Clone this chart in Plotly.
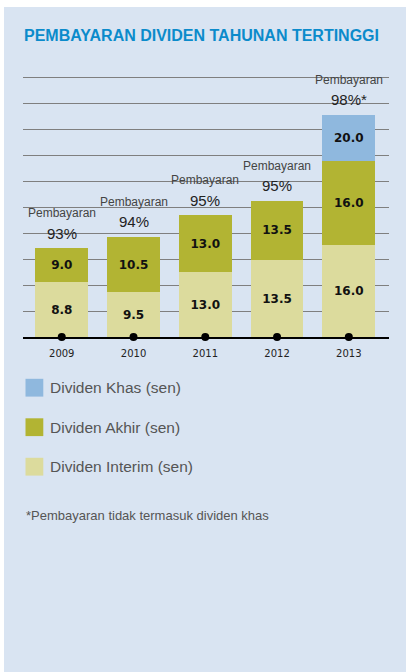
import plotly.graph_objects as go

# data
years = ["2009", "2010", "2011", "2012", "2013"]
interim_sen = ["8.8", "9.5", "13.0", "13.5", "16.0"]
akhir_sen = ["9.0", "10.5", "13.0", "13.5", "16.0"]
khas_sen = ["", "", "", "", "20.0"]
payout = ["93%", "94%", "95%", "95%", "98%*"]
# segment heights as drawn (in gridline steps; the original is not to scale)
interim_h = [2.10, 1.72, 2.49, 2.96, 3.54]
akhir_h = [1.32, 2.13, 2.20, 2.28, 3.24]
khas_h = [0, 0, 0, 0, 1.77]

C_KHAS = "#8fb8de"
C_AKHIR = "#b2b433"
C_INTERIM = "#dcdb9d"
BG = "#d9e4f2"
SANS = "Liberation Sans, Arial, sans-serif"

W, H = 408, 672
L, R, T, B = 23, 389, 72, 337


def px_x(x):
    return (x - L) / (R - L)


def px_y(y):
    return (B - y) / (B - T)


fig = go.Figure()
for name, h, txt, col in [
    ("Dividen Interim (sen)", interim_h, interim_sen, C_INTERIM),
    ("Dividen Akhir (sen)", akhir_h, akhir_sen, C_AKHIR),
    ("Dividen Khas (sen)", khas_h, khas_sen, C_KHAS),
]:
    fig.add_trace(go.Bar(
        x=years, y=h, name=name, marker_color=col, marker_line_width=0,
        text=txt, textposition="inside", insidetextanchor="middle",
        textangle=0, constraintext="none",
        textfont=dict(family="DejaVu Sans", size=12, color="#111111", weight="bold"),
        showlegend=False, hoverinfo="skip",
    ))

fig.add_trace(go.Scatter(
    x=years, y=[0] * len(years), mode="markers",
    marker=dict(color="black", size=8), cliponaxis=False,
    showlegend=False, hoverinfo="skip",
))

# "Pembayaran xx%" labels above each bar
totals = [a + b + c for a, b, c in zip(interim_h, akhir_h, khas_h)]
for i, (tot, p) in enumerate(zip(totals, payout)):
    fig.add_annotation(x=i, y=tot, text="Pembayaran", showarrow=False,
                       yshift=35, yanchor="middle",
                       font=dict(family=SANS, size=12, color="#444444"))
    fig.add_annotation(x=i, y=tot, text=p, showarrow=False,
                       yshift=15, yanchor="middle",
                       font=dict(family=SANS, size=15, color="#222222"))

# title
fig.add_annotation(xref="paper", yref="paper", x=px_x(22), y=px_y(35),
                   xanchor="left", yanchor="middle", showarrow=False,
                   text="<b>PEMBAYARAN DIVIDEN TAHUNAN TERTINGGI</b>",
                   font=dict(family=SANS, size=16, color="#0b8bcb"))

# legend, drawn by hand
shapes = [dict(type="rect", xref="paper", yref="paper", layer="below",
               x0=px_x(4), x1=px_x(406), y0=px_y(672), y1=px_y(7),
               fillcolor=BG, line_width=0)]
for i, (lab, col) in enumerate([("Dividen Khas (sen)", C_KHAS),
                                ("Dividen Akhir (sen)", C_AKHIR),
                                ("Dividen Interim (sen)", C_INTERIM)]):
    cy = 387.7 + i * 39.5
    shapes.append(dict(type="rect", xref="paper", yref="paper",
                       x0=px_x(25.5), x1=px_x(43.3), y0=px_y(cy + 8.9), y1=px_y(cy - 8.9),
                       fillcolor=col, line_width=0))
    fig.add_annotation(xref="paper", yref="paper", x=px_x(48), y=px_y(cy),
                       xanchor="left", yanchor="middle", showarrow=False, text=lab,
                       font=dict(family=SANS, size=15.5, color="#555555"))

fig.add_annotation(xref="paper", yref="paper", x=px_x(24), y=px_y(515),
                   xanchor="left", yanchor="middle", showarrow=False,
                   text="*Pembayaran tidak termasuk dividen khas",
                   font=dict(family=SANS, size=13, color="#555555"))

fig.update_layout(
    width=W, height=H, barmode="stack", bargap=0.265,
    margin=dict(l=L, r=W - R, t=T, b=H - B, pad=0),
    paper_bgcolor="white", plot_bgcolor="rgba(0,0,0,0)",
    shapes=shapes,
    xaxis=dict(type="category", range=[-0.54, 4.56], showgrid=False, showline=True,
               linecolor="black", linewidth=1.5, ticks="", ticklabelstandoff=6,
               tickfont=dict(family="DejaVu Sans", size=10, color="#222222"),
               fixedrange=True),
    yaxis=dict(range=[0, 10.2], dtick=1, showgrid=True, gridcolor="#7f7f7f",
               gridwidth=1, showticklabels=False, zeroline=False,
               fixedrange=True),
)

fig.write_html("out.html", config={"displayModeBar": False},
               post_script="document.body.style.margin='0';")
